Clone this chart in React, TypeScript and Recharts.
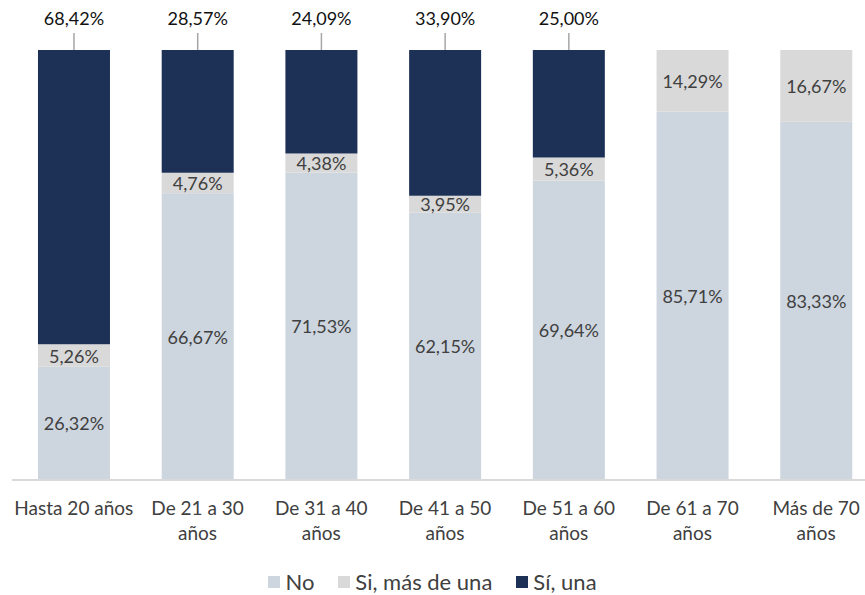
import React from 'react';
import { BarChart, Bar, XAxis, YAxis, LabelList } from 'recharts';

const categories = [
  'Hasta 20 años',
  'De 21 a 30 años',
  'De 31 a 40 años',
  'De 41 a 50 años',
  'De 51 a 60 años',
  'De 61 a 70 años',
  'Más de 70 años',
];
const noValues = [26.32, 66.67, 71.53, 62.15, 69.64, 85.71, 83.33];
const masDeUnaValues = [5.26, 4.76, 4.38, 3.95, 5.36, 14.29, 16.67];
const unaValues = [68.42, 28.57, 24.09, 33.9, 25.0, 0, 0];

const series = [
  { key: 'no', name: 'No', color: '#cdd5df' },
  { key: 'masDeUna', name: 'Si, más de una', color: '#d9d9d9' },
  { key: 'una', name: 'Sí, una', color: '#1d3055' },
];

const data = categories.map((c, i) => ({
  cat: c,
  no: noValues[i],
  masDeUna: masDeUnaValues[i],
  una: unaValues[i],
}));

const FONT = 'Lato, "Noto Sans", sans-serif';
const fmt = (v: number) => v.toFixed(2).replace('.', ',') + '%';

const InsideLabel = (props: any) => {
  const { x, y, width, height, value } = props;
  if (!value) return null;
  return (
    <text
      x={x + width / 2}
      y={y + height / 2}
      textAnchor="middle"
      dominantBaseline="central"
      fill="#404040"
      fontSize={18}
      fontFamily={FONT}
    >
      {fmt(value)}
    </text>
  );
};

const TopLabel = (props: any) => {
  const { x, y, width, value } = props;
  if (!value) return null;
  const cx = x + width / 2;
  return (
    <g>
      <line x1={cx} y1={y} x2={cx} y2={y - 17} stroke="#a6a6a6" strokeWidth={1.5} />
      <text
        x={cx}
        y={y - 32}
        textAnchor="middle"
        dominantBaseline="central"
        fill="#111"
        fontSize={18}
        fontFamily={FONT}
      >
        {fmt(value)}
      </text>
    </g>
  );
};

const CategoryTick = ({ x, y, payload }: any) => {
  const text: string = payload.value;
  const lines = text.length > 13 ? [text.replace(/ años$/, ''), 'años'] : [text];
  return (
    <text x={x} y={y + 27} textAnchor="middle" fill="#404040" fontSize={19} fontFamily={FONT}>
      {lines.map((l, i) => (
        <tspan key={i} x={x} dy={i === 0 ? 0 : 25}>
          {l}
        </tspan>
      ))}
    </text>
  );
};

const LegendRow = () => (
  <div
    style={{
      position: 'absolute',
      top: 570,
      left: 0,
      width: 865,
      height: 24,
      lineHeight: '24px',
      display: 'flex',
      justifyContent: 'center',
      gap: 24,
      fontFamily: FONT,
      fontSize: 22,
      color: '#404040',
    }}
  >
    {series.map((s) => (
      <div key={s.key} style={{ display: 'flex', alignItems: 'center', gap: 5 }}>
        <div style={{ width: 12, height: 12, background: s.color }} />
        <span>{s.name}</span>
      </div>
    ))}
  </div>
);

export default function App() {
  return (
    <div style={{ width: 865, height: 595, overflow: 'hidden', position: 'relative', background: '#fff' }}>
      <style>{'body{margin:0;overflow:hidden}'}</style>
      <BarChart
        width={878}
        height={595}
        data={data}
        margin={{ top: 50, right: 0, bottom: 55, left: 12 }}
        barCategoryGap="21%"
      >
        <XAxis
          dataKey="cat"
          axisLine={{ stroke: '#d9d9d9', strokeWidth: 2 }}
          tickLine={false}
          tick={<CategoryTick />}
          interval={0}
          height={60}
        />
        <YAxis hide domain={[0, 100]} />
        <Bar dataKey="no" stackId="a" fill={series[0].color} isAnimationActive={false}>
          <LabelList dataKey="no" content={<InsideLabel />} />
        </Bar>
        <Bar dataKey="masDeUna" stackId="a" fill={series[1].color} isAnimationActive={false}>
          <LabelList dataKey="masDeUna" content={<InsideLabel />} />
        </Bar>
        <Bar dataKey="una" stackId="a" fill={series[2].color} isAnimationActive={false}>
          <LabelList dataKey="una" content={<TopLabel />} />
        </Bar>
      </BarChart>
      <LegendRow />
    </div>
  );
}
